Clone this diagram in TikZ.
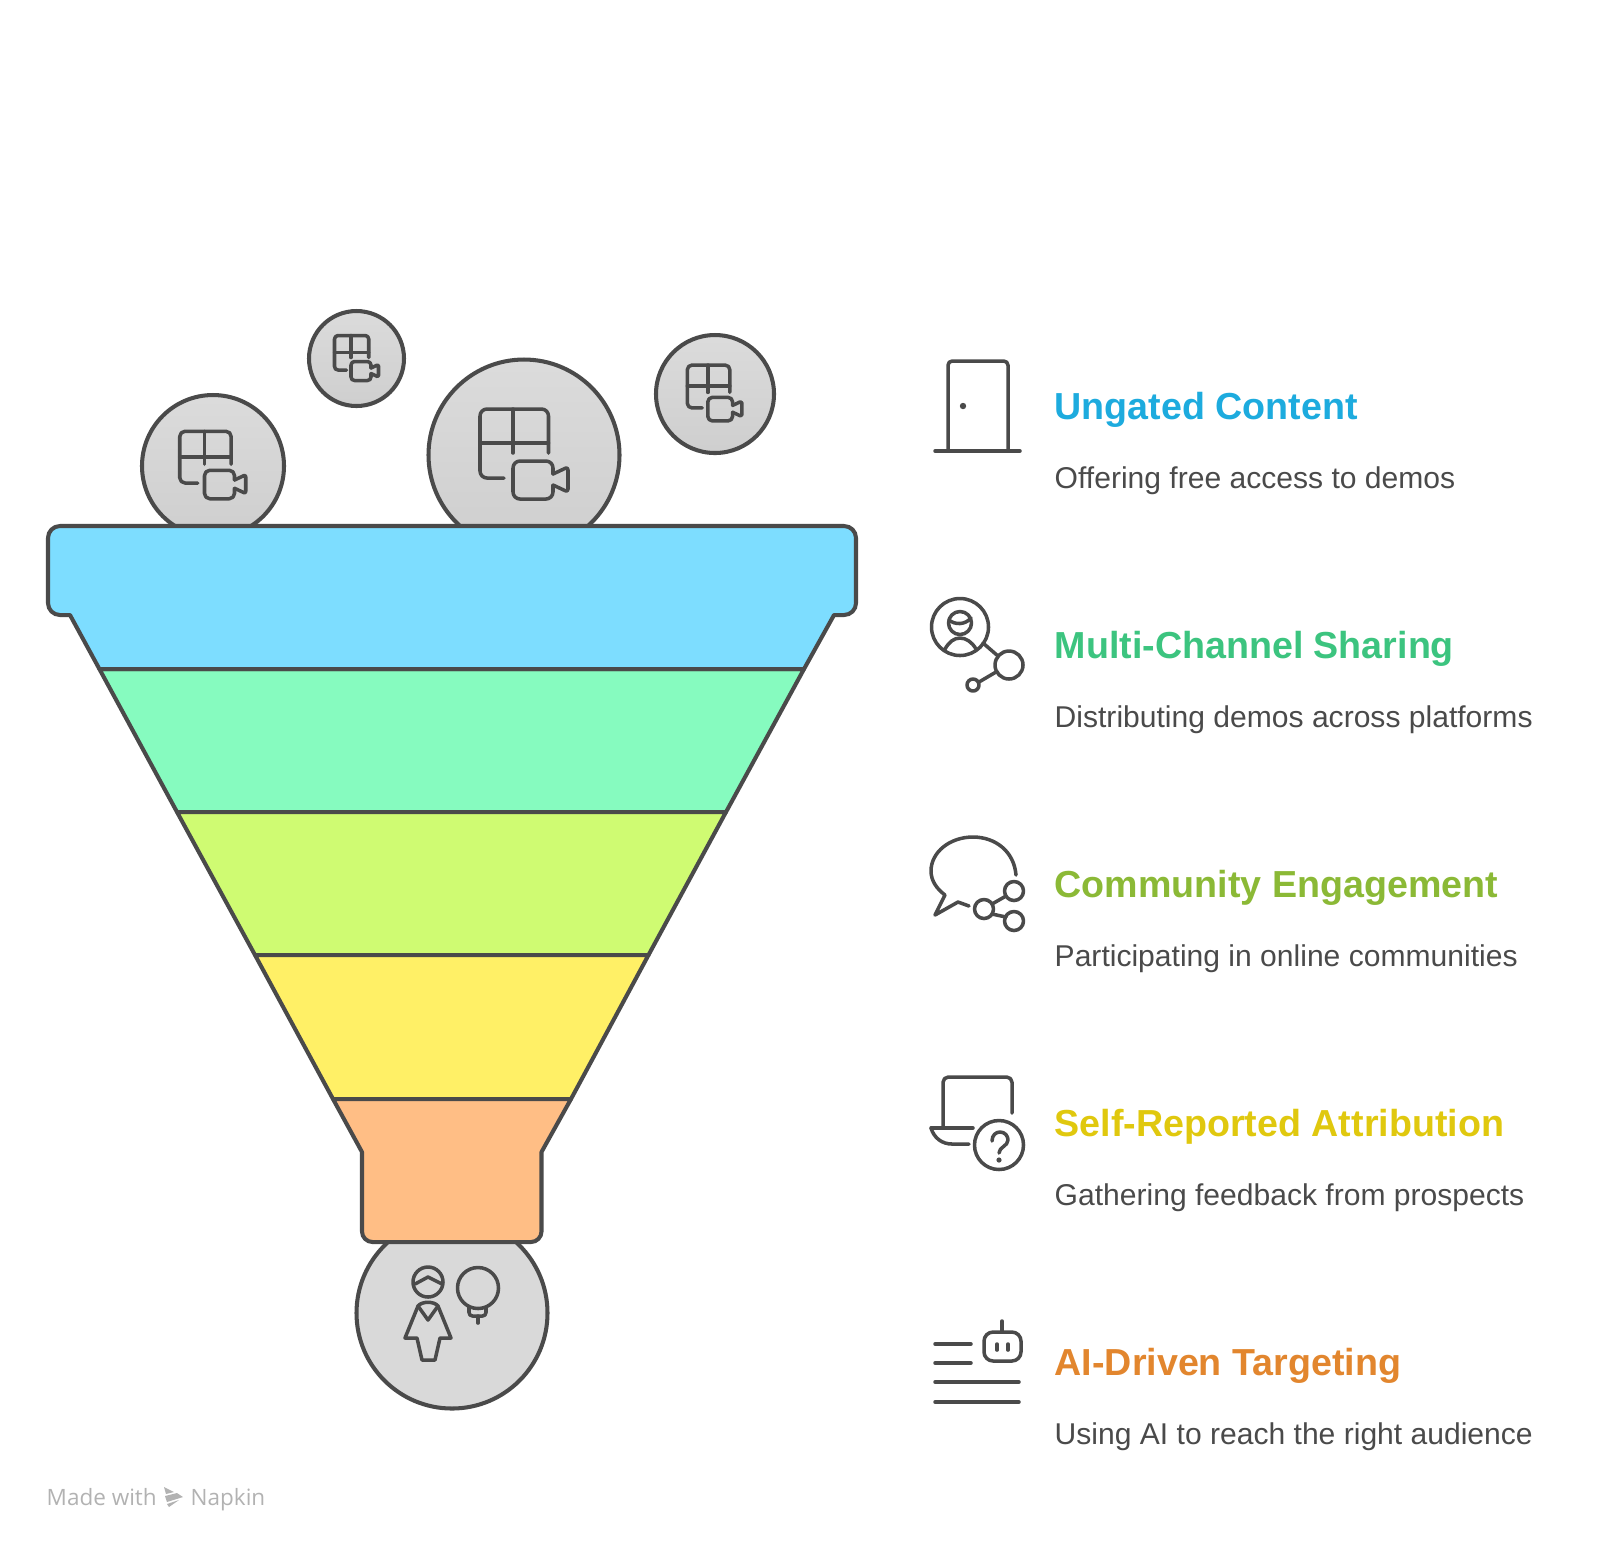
\documentclass[tikz,border=0pt]{standalone}
\usepackage{fontspec}
\setmainfont{Liberation Sans}
\newfontfamily\markfont{Open Sans}

\definecolor{ink}{HTML}{4A4A4A}
\definecolor{bandA}{HTML}{7DDDFF}
\definecolor{bandB}{HTML}{86FBBF}
\definecolor{bandC}{HTML}{CFFB72}
\definecolor{bandD}{HTML}{FFF066}
\definecolor{bandE}{HTML}{FFBE85}
\definecolor{titleA}{HTML}{1DABDE}
\definecolor{titleB}{HTML}{3CC47F}
\definecolor{titleC}{HTML}{8BB936}
\definecolor{titleD}{HTML}{E0C80E}
\definecolor{titleE}{HTML}{E2862E}

\tikzset{
  band/.style={draw=ink, line width=1.15pt, line join=round},
  ball/.style={draw=ink, line width=1.15pt, top color=black!14, bottom color=black!19},
  icon/.style={draw=ink, line width=1pt, line cap=round, line join=round},
  heading/.style={anchor=base west, inner sep=0pt, font=\fontsize{10.7pt}{13pt}\selectfont\bfseries},
  detail/.style={anchor=base west, inner sep=0pt, text=ink, font=\fontsize{8.55pt}{11pt}\selectfont},
  brand/.style={anchor=base west, inner sep=0pt, text=black!30, font=\fontsize{6.4pt}{8pt}\selectfont\markfont},
  demo icon/.pic={
    \draw[icon, rounded corners=#1] (-19,24) -- (-43,24) -- (-43,-45) -- (25.5,-45) -- (25.5,-1);
    \draw[icon] (-43,-11) -- (25.5,-11);
    \draw[icon] (-10,-45) -- (-10,-1);
    \draw[icon, rounded corners=#1] (30,20) -- (30,7) -- (-10,7) -- (-10,45) -- (30,45) -- (30,31);
    \draw[icon, rounded corners=0.4*#1] (30,20) -- (45,13) -- (45,38) -- (30,31);
  }
}

\begin{document}
\begin{tikzpicture}[x=0.01cm, y=-0.01cm]
    \useasboundingbox (0,0) rectangle (1600,1553);

    % Balls above the funnel
    \draw[ball] (213,466) circle[radius=71];
    \draw[ball] (356.5,358.5) circle[radius=47.5];
    \draw[ball] (524,455) circle[radius=95.5];
    \draw[ball] (715,394) circle[radius=59];
    \pic[scale=0.75] at (212,465) {demo icon=1.5pt};
    \pic[scale=0.5] at (356,358) {demo icon=1pt};
    \pic at (523,454) {demo icon=2pt};
    \pic[scale=0.62] at (714,393) {demo icon=1.3pt};

    % Ball under the funnel
    \draw[ball, top color=black!15, bottom color=black!15] (452,1313) circle[radius=95.5];
    \draw[icon] (428,1282) circle[radius=15];
    \draw[icon] (415,1284) -- (428,1277) -- (442,1284);
    \draw[icon] (405,1338) -- (418,1306) .. controls (422,1301) and (434,1301) .. (438,1306) -- (451,1338) -- (440,1338) -- (435,1360) -- (422,1360) -- (417,1338) -- cycle;
    \draw[icon] (418,1306) -- (428,1320) -- (438,1306);
    \draw[icon] (478,1288) circle[radius=20.5];
    \draw[icon, rounded corners=1pt] (469,1307) -- (469,1316) -- (486,1316) -- (486,1307);
    \draw[icon] (478,1316) -- (478,1323);

    % Funnel bands
    \draw[band, fill=bandB] (99.4,669) -- (804,669) -- (726,812) -- (177,812) -- cycle;
    \draw[band, fill=bandC] (177,812) -- (726,812) -- (648.5,955) -- (255,955) -- cycle;
    \draw[band, fill=bandD] (255,955) -- (648.5,955) -- (571,1099) -- (333,1099) -- cycle;
    \draw[band, fill=bandE] (333,1099) -- (571,1099) -- (541.5,1152) [rounded corners=3pt] -- (541.5,1242) -- (362,1242) [sharp corners] -- (362,1152) -- cycle;
    \draw[band, fill=bandA] (70,615) [rounded corners=3.4pt] -- (48,615) -- (48,526) -- (856,526) -- (856,615) [sharp corners] -- (834,615) -- (804,669) -- (99.4,669) -- cycle;

    % Door icon
    \draw[icon, rounded corners=1.2pt] (948,451) -- (948,361) -- (1008,361) -- (1008,451);
    \draw[icon] (935,451) -- (1020,451);
    \fill[ink] (963,406) circle[radius=3.2];

    % Person and links icon
    \draw[icon] (960,627) circle[radius=28.5];
    \draw[icon] (960,623) circle[radius=11.5];
    \draw[icon] (949,620) .. controls (955,625) and (965,625) .. (971,618);
    \draw[icon] (945,649) .. controls (949,642) and (954,638) .. (960,638) .. controls (966,638) and (972,642) .. (976,649);
    \draw[icon] (983,643) -- (998,656);
    \draw[icon] (1009,665) circle[radius=14];
    \draw[icon] (973,685) circle[radius=6];
    \draw[icon] (996,672) -- (979,682);

    % Speech bubble icon
    \draw[icon] (1016,875) .. controls (1014,851) and (995,837) .. (973,837) .. controls (950,837) and (931,852) .. (931,871) .. controls (931,881) and (937,889) .. (945,895) -- (935,915) -- (958,902) -- (969,906);
    \draw[icon] (984,909) circle[radius=9.5];
    \draw[icon] (1014,891) circle[radius=9.5];
    \draw[icon] (1014,921) circle[radius=9.5];
    \draw[icon] (992,904) -- (1006,896);
    \draw[icon] (992,914) -- (1006,917);

    % Laptop icon
    \draw[icon, rounded corners=1.5pt] (943,1128) -- (943,1077) -- (1012,1077) -- (1012,1113);
    \draw[icon] (931,1128) -- (973,1128);
    \draw[icon] (931,1128) .. controls (934,1138) and (942,1144) .. (952,1144) -- (969,1144);
    \draw[icon] (999,1145) circle[radius=24.5];
    \draw[icon] (992,1141) .. controls (992,1135) and (996,1132) .. (1000,1132) .. controls (1005,1132) and (1008,1136) .. (1008,1140) .. controls (1008,1146) and (999,1147) .. (999,1153);
    \fill[ink] (999,1160) circle[radius=2.6];

    % Robot and lines icon
    \draw[icon] (935,1344) -- (971,1344);
    \draw[icon] (935,1363) -- (971,1363);
    \draw[icon] (935,1382) -- (1019,1382);
    \draw[icon] (935,1402) -- (1019,1402);
    \draw[icon, rounded corners=2.6pt] (984,1332) rectangle (1021,1361);
    \draw[icon] (1002,1321) -- (1002,1332);
    \draw[icon] (997,1344) -- (997,1350);
    \draw[icon] (1008,1344) -- (1008,1350);

    % Headings
    \node[heading, text=titleA] (T1) at (1054,419.5) {Ungated Content};
    \node[heading, text=titleB] (T2) at (1054,658.5) {Multi-Channel Sharing};
    \node[heading, text=titleC] (T3) at (1054,897.5) {Community Engagement};
    \node[heading, text=titleD] (T4) at (1054,1136.5) {Self-Reported Attribution};
    \node[heading, text=titleE] (T5) at (1054,1375.5) {AI-Driven Targeting};

    % Details
    \node[detail] (D1) at (1054,488) {Offering free access to demos};
    \node[detail] (D2) at (1054,727) {Distributing demos across platforms};
    \node[detail] (D3) at (1054,966) {Participating in online communities};
    \node[detail] (D4) at (1054,1205) {Gathering feedback from prospects};
    \node[detail] (D5) at (1054,1444) {Using AI to reach the right audience};

    % Made with mark
    \node[brand] (M1) at (46,1505) {Made with};
    \node[brand] (M2) at (190,1505) {Napkin};
    \fill[black!30] (164,1487) -- (174,1492) -- (166,1494) -- cycle;
    \fill[black!30] (165,1496) -- (177,1493) -- (183,1497) -- (167,1502) -- cycle;
    \fill[black!30] (167,1504) -- (179,1500) -- (169,1507) -- cycle;
  \end{tikzpicture}
\end{document}
